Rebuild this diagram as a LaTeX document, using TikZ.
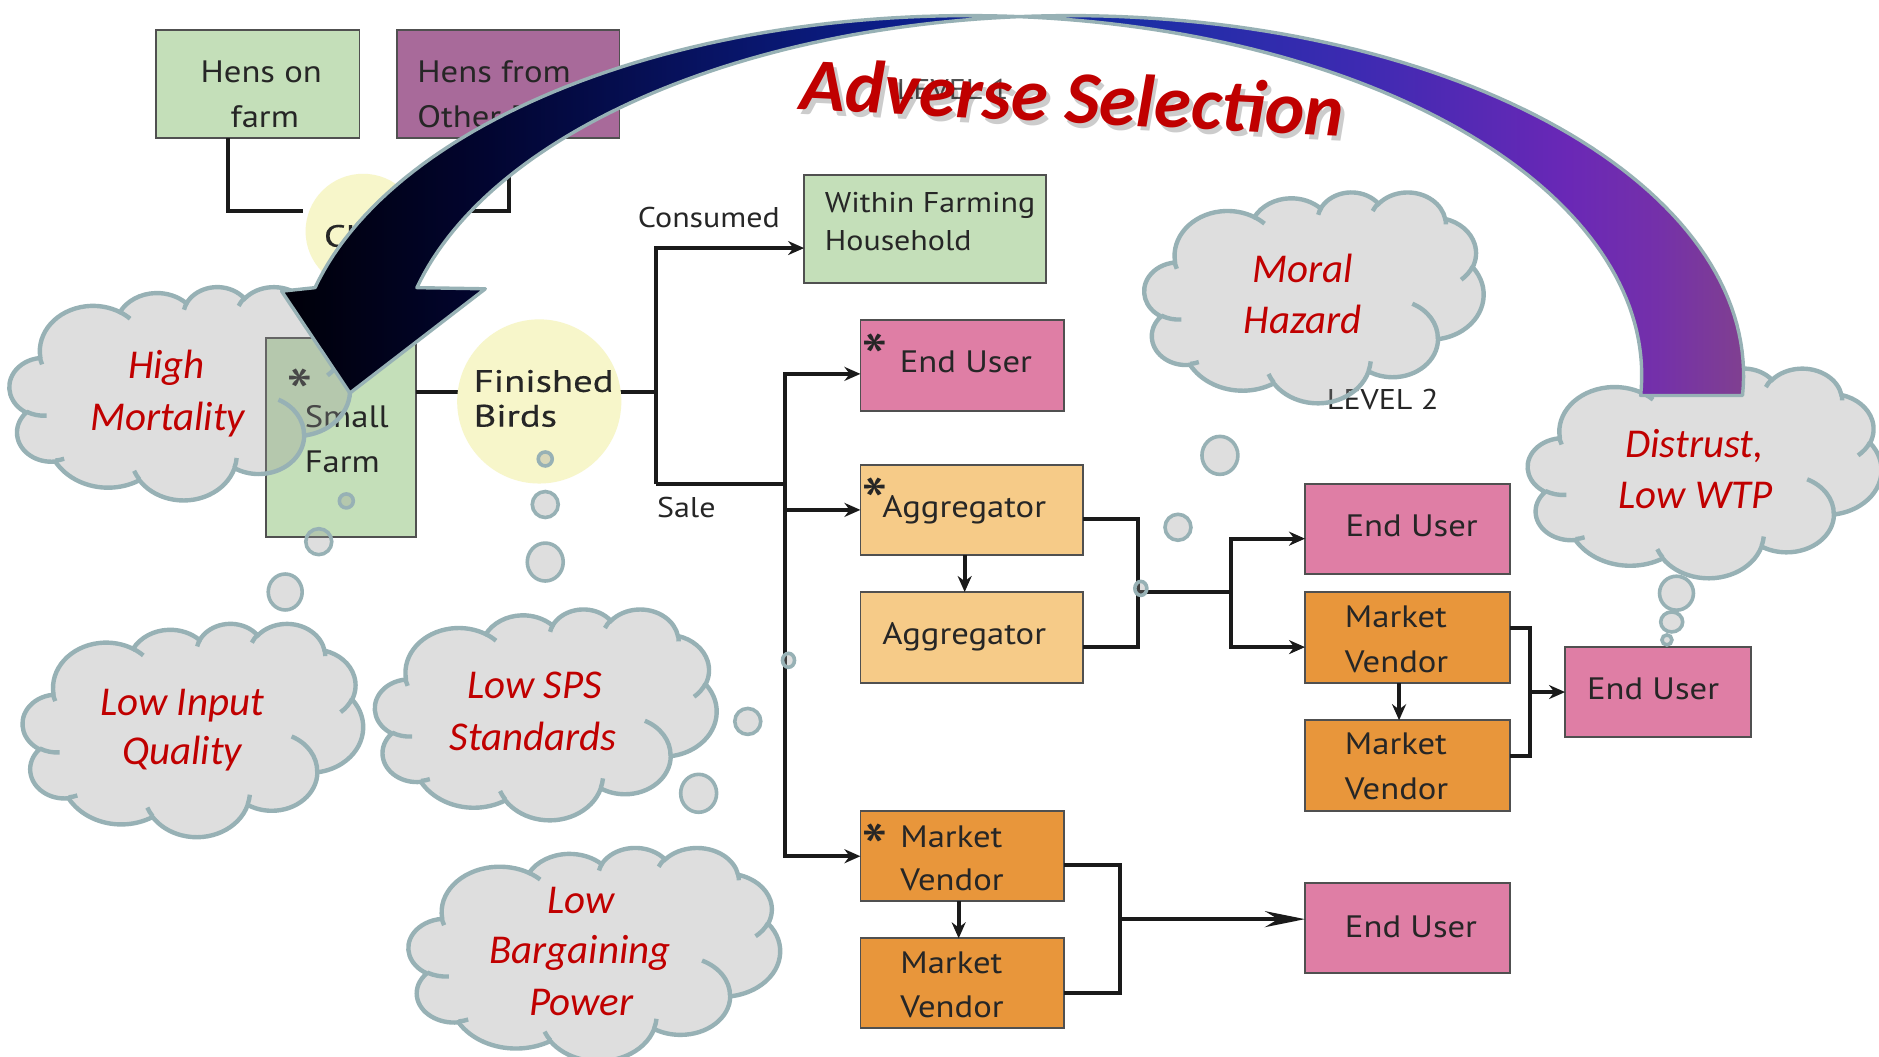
\documentclass[tikz,border=0pt]{standalone}
\usepackage{fontspec}
\setmainfont{PT Sans}
\newfontfamily\flowfont{PT Sans}[FakeStretch=1.12]
\newfontfamily\stagefont{PT Sans}[FakeStretch=1.25,FakeBold=0.4]
\newfontfamily\calib{Carlito}
\usetikzlibrary{arrows.meta,calc,shapes.geometric}

\definecolor{boxgreen}{HTML}{C4DFB9}
\definecolor{boxpurple}{HTML}{A86A9A}
\definecolor{boxpink}{HTML}{DF7EA5}
\definecolor{boxpeach}{HTML}{F6CB88}
\definecolor{boxorange}{HTML}{E8963B}
\definecolor{boxedge}{HTML}{505050}
\definecolor{flowline}{HTML}{1A1A1A}
\definecolor{inkdark}{HTML}{262626}
\definecolor{stageyellow}{HTML}{F7F6CA}
\definecolor{cloudedge}{HTML}{97B1B5}
\definecolor{cloudfill}{RGB}{149,149,149}
\definecolor{issuered}{HTML}{C00000}
\definecolor{asA}{HTML}{000008}
\definecolor{asB}{HTML}{020530}
\definecolor{asC}{HTML}{081466}
\definecolor{asD}{HTML}{0C1E8A}
\definecolor{asE}{HTML}{1A2EA5}
\definecolor{asF}{HTML}{3E2AB2}
\definecolor{asG}{HTML}{6A28B6}
\definecolor{asH}{HTML}{7430AA}
\definecolor{asI}{HTML}{804090}
\definecolor{arrowedge}{HTML}{97B1B5}

\pgfdeclarehorizontalshading{advsel}{100bp}{color(0bp)=(asA); color(25bp)=(asA); color(32bp)=(asB); color(40bp)=(asC); color(46bp)=(asD); color(54bp)=(asE); color(62bp)=(asF); color(69bp)=(asG); color(72bp)=(asH); color(75bp)=(asI); color(100bp)=(asI)}

% elliptical arc given radii, start angle and sweep (angles measured as seen)
\newcommand\dmlarc[4]{arc[x radius=#1, y radius=#2,
  start angle={atan2((#1)*sin(#3),(#2)*cos(#3))},
  delta angle={mod(atan2((#1)*sin((#3)+(#4)),(#2)*cos((#3)+(#4)))-atan2((#1)*sin(#3),(#2)*cos(#3))+720,360)}]}

% cloud outline in a 4320 x 4320 frame
\def\cloudoutline{(390,1437)
  \dmlarc{675.3}{919.0}{-190.4875}{123.7805}
  \dmlarc{533.3}{726.7}{-144.1024}{89.9452}
  \dmlarc{436.5}{594.5}{-145.8079}{99.7230}
  \dmlarc{485.7}{659.5}{-130.9861}{117.2417}
  \dmlarc{533.3}{727.3}{-78.7089}{109.0269}
  \dmlarc{677.5}{922.0}{-46.2673}{130.2690}
  \dmlarc{578.5}{786.7}{0.6250}{114.0333}
  \dmlarc{675.2}{921.5}{22.4516}{115.1726}
  \dmlarc{772.0}{1054.3}{66.2426}{75.7110}
  \dmlarc{436.0}{591.8}{-274.9421}{146.7356}
  \dmlarc{434.5}{594.5}{-246.8285}{152.5189} -- cycle}

% the short puff strokes inside the cloud
\def\cloudinner{(469.3,2617.7) \dmlarc{434.5}{594.5}{86.742}{26.4295}
  (692.8,3489.9) \dmlarc{436.0}{591.8}{73.6105}{11.4475}
  (1647.8,3909.0) \dmlarc{675.2}{921.5}{137.6242}{14.0811}
  (2882.7,3475.1) \dmlarc{675.2}{921.5}{6.4533}{15.9984}
  (3412.9,2295.4) \dmlarc{578.5}{786.7}{-70.2924}{70.9174}
  (4179.8,1535.4) \dmlarc{533.3}{727.3}{30.3180}{27.7515}
  (3832.4,542.6) \dmlarc{485.7}{659.5}{-13.7443}{14.8589}
  (2907.8,395.2) \dmlarc{485.7}{659.5}{-149.1815}{18.1954}
  (2214.1,472.0) \dmlarc{436.5}{594.5}{-163.4943}{17.6864}
  (1400.0,519.2) \dmlarc{675.3}{919.0}{-66.7070}{12.3194}
  (412.7,1578.9) \dmlarc{675.3}{919.0}{153.8494}{11.8582}}

% #1 name, #2 left, #3 top, #4 width, #5 height
\newcommand\issuecloud[5]{%
  \begin{scope}[shift={(#2,#3)}, xscale=#4/4320, yscale=#5/4320]
    \path[cloudbody] \cloudoutline;
    \draw[cloudrim] \cloudinner;
    \coordinate (#1) at (2160,2160);
  \end{scope}}

% the curved ribbon arrow: two equal ellipses, offset sideways
\def\advpath{plot[domain=85.66:165.92, samples=60] ({808+562*cos(\x)},{313-300*sin(\x)})
  -- (235,243) -- (292,328) -- (405,241)
  -- plot[domain=165.92:94.34, samples=60] ({893+562*cos(\x)},{313-300*sin(\x)}) -- cycle
  plot[domain=-3.25:85.66, samples=70] ({808+562*cos(\x)},{313-300*sin(\x)})
  -- plot[domain=94.34:-3.25, samples=70] ({893+562*cos(\x)},{313-300*sin(\x)}) -- cycle}

\begin{document}
\begin{tikzpicture}[x=0.6pt, y=-0.6pt,
  box/.style={draw=boxedge, line width=0.9pt, inner sep=0pt, outer sep=0pt},
  boxsize/.style 2 args={minimum width=#1*0.6pt, minimum height=#2*0.6pt},
  flow/.style={draw=flowline, line width=2pt},
  flowarrow/.style={flow, -{Stealth[length=8pt, width=7pt]}},
  longarrow/.style={flow, -{Stealth[length=20pt, width=8pt]}},
  tx/.style={inner sep=0pt, text=inkdark, font=\flowfont\fontsize{15.5}{18}\selectfont},
  startx/.style={inner sep=0pt, anchor=base, text=inkdark, font=\flowfont\fontsize{34}{36}\selectfont},
  lab/.style={inner sep=0pt, text=inkdark, font=\flowfont\fontsize{14.3}{17}\selectfont},
  stagetx/.style={inner sep=0pt, text=inkdark, font=\stagefont\fontsize{15.5}{18}\selectfont},
  cloudtxt/.style={inner sep=0pt, anchor=base, text=issuered, font=\calib\itshape\fontsize{20.5}{24}\selectfont},
  cloudbody/.style={fill=cloudfill, fill opacity=0.31, draw=cloudedge, line width=2.2pt},
  cloudrim/.style={draw=cloudedge, line width=2.2pt},
  bubble/.style={ellipse, draw=cloudedge, line width=1.8pt, fill=cloudfill, fill opacity=0.31, inner sep=0pt},
  stage/.style={circle, fill=stageyellow, inner sep=0pt}]

\fill[white] (0,0) rectangle (1568,882);
\useasboundingbox (0,0) rectangle (1568,882);

% ---- flow boxes
\node[box, fill=boxgreen,  boxsize={170}{90}]  (hof) at (215,70) {};
\node[box, fill=boxpurple, boxsize={186}{90}]  (hfo) at (424,70) {};
\node[box, fill=boxgreen,  boxsize={125}{166}] (sf)  at (284.5,365) {};
\node[box, fill=boxgreen,  boxsize={202}{90}]  (wfh) at (772,191) {};
\node[box, fill=boxpink,   boxsize={170}{76}]  (eu1) at (803,305) {};
\node[box, fill=boxpeach,  boxsize={186}{75}]  (ag1) at (811,425.5) {};
\node[box, fill=boxpeach,  boxsize={186}{76}]  (ag2) at (811,532) {};
\node[box, fill=boxpink,   boxsize={171}{75}]  (eu2) at (1174.5,441.5) {};
\node[box, fill=boxorange, boxsize={171}{76}]  (mv1) at (1174.5,532) {};
\node[box, fill=boxorange, boxsize={171}{76}]  (mv2) at (1174.5,639) {};
\node[box, fill=boxpink,   boxsize={155}{75}]  (eu3) at (1383.5,577.5) {};
\node[box, fill=boxorange, boxsize={170}{75}]  (mv3) at (803,714.5) {};
\node[box, fill=boxorange, boxsize={170}{75}]  (mv4) at (803,820.5) {};
\node[box, fill=boxpink,   boxsize={171}{75}]  (eu4) at (1174.5,774.5) {};

% ---- junction points
\coordinate (chA) at (253,176);
\coordinate (chB) at (350,176);
\coordinate (jF) at (547,327);
\coordinate (jC) at (547,207);
\coordinate (jS) at (547,404);
\coordinate (jV) at (655,404);
\coordinate (jA) at (950,494);
\coordinate (jB) at (1027,494);
\coordinate (jM) at (1277,577.5);
\coordinate (jN) at (935,767);

% ---- connectors
\draw[flow] ($(hof.south west)+(60,0)$) |- (chA);
\draw[flow] ($(hfo.south west)+(94,0)$) |- (chB);
\draw[flow] ($(sf.east)+(0,-38)$) -- (jF);
\draw[flowarrow] (jS) -- (jC) -- ($(wfh.west)+(0,16)$);
\draw[flow] (jS) -- (jV);
\draw[flowarrow] (jV) |- ($(eu1.west)+(0,7)$);
\draw[flowarrow] (jV) |- (ag1.west);
\draw[flowarrow] (jV) |- (mv3.west);
\draw[flowarrow] ($(ag1.south)+(-6,0)$) -- ($(ag2.north)+(-6,0)$);
\draw[flow] ($(ag1.east)+(0,8)$) -| (jA) |- ($(ag2.east)+(0,8)$);
\draw[flow] (jA) -- (jB);
\draw[flowarrow] (jB) |- ($(eu2.west)+(0,8)$);
\draw[flowarrow] (jB) |- ($(mv1.west)+(0,8)$);
\draw[flowarrow] ($(mv1.south)+(-7,0)$) -- ($(mv2.north)+(-7,0)$);
\draw[flow] ($(mv1.east)+(0,-8)$) -| (jM) |- ($(mv2.east)+(0,-8)$);
\draw[flowarrow] (jM) -- (eu3.west);
\draw[flowarrow] ($(mv3.south)+(-3,0)$) -- ($(mv4.north)+(-3,0)$);
\draw[flow] ($(mv3.east)+(0,7)$) -| (jN) |- ($(mv4.east)+(0,8)$);
\draw[longarrow] (jN) -- ($(eu4.west)+(0,-7.5)$);

% ---- stages
\node[stage, minimum size=57.6pt] (ch) at (303,193) {};
\node[stage, minimum size=82.2pt] (fb) at (450,335) {};

% ---- texts
\node[tx, anchor=base] (t1) at (218,69) {Hens on};
\node[tx, anchor=base] (t2) at (221,106) {farm};
\node[tx, anchor=base west] (t3) at (348,69) {Hens from};
\node[tx, anchor=base west] (t4) at (348,106) {Other F};
\node[startx] (s1) at (250,348) {*};
\node[tx, anchor=base west] (t5) at (254,357) {Small};
\node[tx, anchor=base west] (t6) at (254,394) {Farm};
\node[stagetx, anchor=base west] (t7) at (270,206) {Chicks};
\node[stagetx, anchor=base west] (t8) at (395,327) {Finished};
\node[stagetx, anchor=base west] (t9) at (395,356) {Birds};
\node[lab, anchor=base west] (t10) at (688,177) {Within Farming};
\node[lab, anchor=base west] (t11) at (688,209) {Household};
\node[lab, anchor=base west] (t12) at (532,190) {Consumed};
\node[lab, anchor=base west] (t13) at (548,432) {Sale};
\node[startx] (s2) at (730,319) {*};
\node[tx, anchor=base] (t14) at (806,311) {End User};
\node[startx] (s3) at (730,439) {*};
\node[tx, anchor=base west] (t15) at (736,432) {Aggregator};
\node[tx, anchor=base west] (t16) at (736,538) {Aggregator};
\node[tx, anchor=base] (t17) at (1178,448) {End User};
\node[tx, anchor=base west] (t18) at (1122,524) {Market};
\node[tx, anchor=base west] (t19) at (1122,561) {Vendor};
\node[tx, anchor=base west] (t20) at (1122,630) {Market};
\node[tx, anchor=base west] (t21) at (1122,667) {Vendor};
\node[tx, anchor=base west] (t22) at (1324,584) {End User};
\node[startx] (s4) at (730,728) {*};
\node[tx, anchor=base west] (t23) at (751,707) {Market};
\node[tx, anchor=base west] (t24) at (751,743) {Vendor};
\node[tx, anchor=base west] (t25) at (751,812) {Market};
\node[tx, anchor=base west] (t26) at (751,849) {Vendor};
\node[tx, anchor=base west] (t27) at (1122,782) {End User};
\node[lab, anchor=base west] (t28) at (1107,342) {LEVEL 2};

% ---- thought clouds
\issuecloud{hm}{8}{239}{284}{178}
\issuecloud{liq}{19}{520}{284}{178}
\issuecloud{sps}{313}{508}{285}{176}
\issuecloud{lbp}{341}{707}{310}{178}
\issuecloud{mh}{955}{160}{283}{176}
\issuecloud{dis}{1275}{307}{295}{175}

\node[bubble, minimum width=17pt, minimum height=18pt] (b1) at (238,494) {};
\node[bubble, minimum width=13pt, minimum height=13pt] (b2) at (266,452) {};
\node[bubble, minimum width=7pt, minimum height=7pt] (b3) at (289,418) {};
\node[bubble, minimum width=18pt, minimum height=19pt] (b4) at (455,469) {};
\node[bubble, minimum width=13pt, minimum height=13pt] (b5) at (455,421) {};
\node[bubble, minimum width=7pt, minimum height=7pt] (b6) at (455,383) {};
\node[bubble, minimum width=18pt, minimum height=19pt] (b7) at (583,662) {};
\node[bubble, minimum width=13pt, minimum height=13pt] (b8) at (624,602) {};
\node[bubble, minimum width=6pt, minimum height=7pt] (b9) at (658,551) {};
\node[bubble, minimum width=18pt, minimum height=19pt] (b10) at (1018,380) {};
\node[bubble, minimum width=13pt, minimum height=13pt] (b11) at (983,440) {};
\node[bubble, minimum width=6pt, minimum height=7pt] (b12) at (952,491) {};
\node[bubble, minimum width=17pt, minimum height=17pt] (b13) at (1399,495) {};
\node[bubble, minimum width=11pt, minimum height=10pt] (b14) at (1395,519) {};
\node[bubble, minimum width=5pt, minimum height=5pt] (b15) at (1391,534) {};

\node[cloudtxt] (c1) at (139,316) {High};
\node[cloudtxt] (c2) at (140,359) {Mortality};
\node[cloudtxt] (c3) at (152,597) {Low Input};
\node[cloudtxt] (c4) at (152,638) {Quality};
\node[cloudtxt] (c5) at (446,583) {Low SPS};
\node[cloudtxt] (c6) at (445,626) {Standards};
\node[cloudtxt] (c7) at (485,762) {Low};
\node[cloudtxt] (c8) at (484,804) {Bargaining};
\node[cloudtxt] (c9) at (485,847) {Power};
\node[cloudtxt] (c10) at (1087,236) {Moral};
\node[cloudtxt] (c11) at (1087,278) {Hazard};
\node[cloudtxt] (c12) at (1414,382) {Distrust,};
\node[cloudtxt] (c13) at (1415,424) {Low WTP};

% ---- ribbon arrow
\shadedraw[shading=advsel, draw=arrowedge, line width=1.7pt, line join=round] \advpath;

% ---- heading
\node[lab, text=inkdark!80] (lv1) at (795,75) {LEVEL 1};
\node[inner sep=0pt, rotate=-2.8, text=black, opacity=0.2,
      font=\calib\bfseries\itshape\fontsize{37.3}{40}\selectfont] (hdshadow) at (898,85) {Adverse Selection};
\node[inner sep=0pt, rotate=-2.8, text=issuered,
      font=\calib\bfseries\itshape\fontsize{37.3}{40}\selectfont] (hd) at (895,81) {Adverse Selection};
\end{tikzpicture}
\end{document}
